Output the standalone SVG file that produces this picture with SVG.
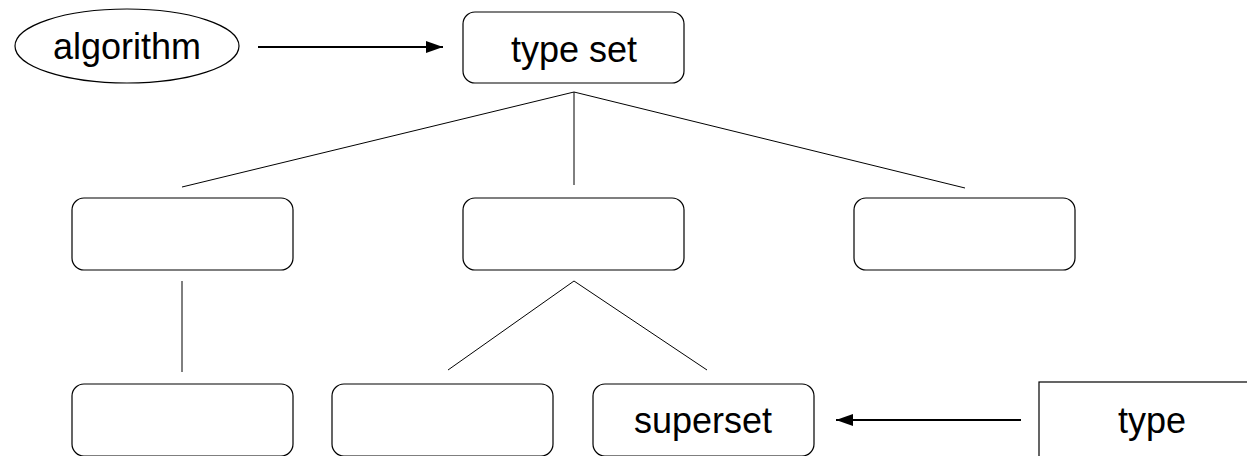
<svg xmlns="http://www.w3.org/2000/svg" width="1247" height="456" viewBox="0 0 1247 456">
<style>
.box{fill:#fff;stroke:#000;stroke-width:1.2}
.lbl{font-family:"Liberation Sans",Arial,sans-serif;font-size:36px;fill:#000;text-anchor:middle}
.tree{stroke:#000;stroke-width:1;fill:none}
.arr{stroke:#000;stroke-width:2;fill:none}
</style>
<defs>
<marker id="ah" markerWidth="18" markerHeight="14" refX="17" refY="7" orient="auto" markerUnits="userSpaceOnUse">
<path d="M0,1 L17,7 L0,13 Z" fill="#000"/>
</marker>
</defs>
<rect width="1247" height="456" fill="#fff"/>
<g id="connectors">
<line class="arr" x1="258" y1="47" x2="443" y2="47" marker-end="url(#ah)"/>
<line class="arr" x1="1021" y1="420" x2="836" y2="420" marker-end="url(#ah)"/>
<line class="tree" x1="574" y1="92" x2="182" y2="187"/>
<line class="tree" x1="574" y1="92" x2="574" y2="185"/>
<line class="tree" x1="574" y1="92" x2="965" y2="188"/>
<line class="tree" x1="182" y1="281" x2="182" y2="372"/>
<line class="tree" x1="574" y1="281" x2="448" y2="370"/>
<line class="tree" x1="574" y1="281" x2="707" y2="370"/>
</g>
<g id="algorithm">
<ellipse class="box" cx="127" cy="46" rx="112" ry="37"/>
<text class="lbl" x="127" y="59">algorithm</text>
</g>
<g id="typeset">
<rect class="box" x="463" y="12" width="221" height="71" rx="12"/>
<text class="lbl" x="574" y="62">type set</text>
</g>
<g id="mid1"><rect class="box" x="72" y="198" width="221" height="72" rx="12"/></g>
<g id="mid2"><rect class="box" x="463" y="198" width="221" height="72" rx="12"/></g>
<g id="mid3"><rect class="box" x="854" y="198" width="221" height="72" rx="12"/></g>
<g id="bot1"><rect class="box" x="72" y="384" width="221" height="72" rx="12"/></g>
<g id="bot2"><rect class="box" x="332" y="384" width="221" height="72" rx="12"/></g>
<g id="superset">
<rect class="box" x="593" y="384" width="221" height="72" rx="12"/>
<text class="lbl" x="703" y="433">superset</text>
</g>
<g id="type">
<rect class="box" x="1039" y="382" width="226" height="90"/>
<text class="lbl" x="1152" y="433">type</text>
</g>
</svg>
